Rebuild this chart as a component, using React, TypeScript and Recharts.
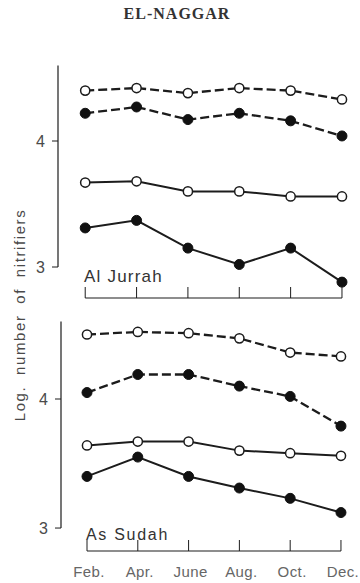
import { Line, LineChart, ReferenceLine, XAxis, YAxis } from "recharts"

const INK = "#1c1c1c"
const LABEL = "#4a4a4a"
const SANS = "'Liberation Sans', Arial, sans-serif"

const MONTHS = ["Feb.", "Apr.", "June", "Aug.", "Oct.", "Dec."]
const Y_TICKS = [3, 4]

// Al Jurrah (top panel)
const JURRAH_OPEN_DASHED = [4.40, 4.42, 4.38, 4.42, 4.40, 4.33]
const JURRAH_FILLED_DASHED = [4.22, 4.27, 4.17, 4.22, 4.16, 4.04]
const JURRAH_OPEN_SOLID = [3.67, 3.68, 3.60, 3.60, 3.56, 3.56]
const JURRAH_FILLED_SOLID = [3.31, 3.37, 3.15, 3.02, 3.15, 2.88]

// As Sudah (bottom panel)
const SUDAH_OPEN_DASHED = [4.50, 4.52, 4.51, 4.47, 4.36, 4.33]
const SUDAH_FILLED_DASHED = [4.05, 4.19, 4.19, 4.10, 4.02, 3.79]
const SUDAH_OPEN_SOLID = [3.64, 3.67, 3.67, 3.60, 3.58, 3.56]
const SUDAH_FILLED_SOLID = [3.40, 3.55, 3.40, 3.31, 3.23, 3.12]

type Series = { od: number[]; fd: number[]; os: number[]; fs: number[] }

function buildRows(s: Series) {
  return MONTHS.map((_, i) => ({ m: i, od: s.od[i], fd: s.fd[i], os: s.os[i], fs: s.fs[i] }))
}

// dots would otherwise inherit the line's dash pattern
const openDot = { r: 4.6, fill: "#fff", stroke: INK, strokeWidth: 1.5, strokeDasharray: "none" }
const filledDot = { r: 5, fill: "#111", stroke: "#111", strokeWidth: 1, strokeDasharray: "none" }

function MonthTick(props: any) {
  const { x, y, payload, showLabel } = props
  return (
    <g>
      <line x1={x} y1={y} x2={x} y2={y - 11} stroke={INK} strokeWidth={1} />
      {showLabel && (
        <text x={x + 2} y={y + 26} textAnchor="middle" fill="#666" fontSize={15} fontFamily={SANS} letterSpacing={0.4}>
          {MONTHS[payload.value]}
        </text>
      )}
    </g>
  )
}

type PanelProps = {
  series: Series
  top: number
  height: number
  marginTop: number
  marginLeft: number
  xDomain: [number, number]
  yDomain: [number, number]
  xAxisHeight: number
  showMonths: boolean
}

function Panel(p: PanelProps) {
  const data = buildRows(p.series)
  const yMin = p.yDomain[0]
  return (
    <div style={{ position: "absolute", left: 0, top: p.top }}>
      <LineChart
        width={360}
        height={p.height}
        data={data}
        margin={{ top: p.marginTop, right: 17, bottom: 2, left: p.marginLeft }}
      >
        <XAxis
          dataKey="m"
          type="number"
          domain={p.xDomain}
          ticks={[0, 1, 2, 3, 4, 5]}
          axisLine={false}
          tickLine={false}
          tickSize={0}
          tickMargin={0}
          height={p.xAxisHeight}
          interval={0}
          tick={(t: any) => <MonthTick {...t} showLabel={p.showMonths} />}
        />
        <YAxis
          type="number"
          domain={p.yDomain}
          ticks={Y_TICKS}
          width={40}
          axisLine={false}
          tickSize={6}
          tickMargin={7}
          tickLine={{ stroke: INK, strokeWidth: 1 }}
          tick={{ fill: LABEL, fontSize: 16, fontFamily: SANS }}
          allowDataOverflow
        />
        <ReferenceLine
          segment={[{ x: p.xDomain[0], y: 3 }, { x: p.xDomain[0], y: p.yDomain[1] }]}
          stroke={INK}
          strokeWidth={1.2}
        />
        <ReferenceLine
          segment={[{ x: 0, y: yMin }, { x: 5, y: yMin }]}
          stroke={INK}
          strokeWidth={1.2}
        />
        <Line dataKey="od" stroke={INK} strokeWidth={2.3} strokeDasharray="9 4" dot={openDot} activeDot={false} isAnimationActive={false} />
        <Line dataKey="fd" stroke={INK} strokeWidth={2.3} strokeDasharray="9 4" dot={filledDot} activeDot={false} isAnimationActive={false} />
        <Line dataKey="os" stroke={INK} strokeWidth={2} dot={openDot} activeDot={false} isAnimationActive={false} />
        <Line dataKey="fs" stroke={INK} strokeWidth={2} dot={filledDot} activeDot={false} isAnimationActive={false} />
      </LineChart>
    </div>
  )
}

const panelName = {
  position: "absolute" as const,
  fontFamily: SANS,
  color: "#333",
  lineHeight: 1,
  whiteSpace: "nowrap" as const,
}

export default function App() {
  return (
    <div style={{ position: "absolute", left: 0, top: 0, width: 360, height: 583, background: "#fff", overflow: "hidden" }}>
      <div
        style={{
          position: "absolute",
          left: 0,
          width: 354,
          top: 5,
          textAlign: "center",
          fontFamily: "'Liberation Serif', serif",
          fontWeight: 700,
          fontSize: 16,
          letterSpacing: 1,
          color: "#333",
        }}
      >
        EL-NAGGAR
      </div>

      <Panel
        series={{ od: JURRAH_OPEN_DASHED, fd: JURRAH_FILLED_DASHED, os: JURRAH_OPEN_SOLID, fs: JURRAH_FILLED_SOLID }}
        top={0}
        height={310}
        marginTop={65.4}
        marginLeft={18}
        xDomain={[-0.53, 5.02]}
        yDomain={[2.754, 4.6]}
        xAxisHeight={10}
        showMonths={false}
      />
      <Panel
        series={{ od: SUDAH_OPEN_DASHED, fd: SUDAH_FILLED_DASHED, os: SUDAH_OPEN_SOLID, fs: SUDAH_FILLED_SOLID }}
        top={300}
        height={283}
        marginTop={21.6}
        marginLeft={21}
        xDomain={[-0.512, 5.04]}
        yDomain={[2.822, 4.6]}
        xAxisHeight={30}
        showMonths={true}
      />

      <div style={{ ...panelName, left: 84, top: 268, fontSize: 17, letterSpacing: 1.2 }}>Al Jurrah</div>
      <div style={{ ...panelName, left: 86, top: 527, fontSize: 16, letterSpacing: 1.7 }}>As Sudah</div>

      <div
        style={{
          position: "absolute",
          left: 20 - 150,
          top: 315 - 9,
          width: 300,
          height: 18,
          lineHeight: "18px",
          textAlign: "center",
          transform: "rotate(-90deg)",
          fontFamily: SANS,
          fontSize: 15,
          letterSpacing: 1.6,
          wordSpacing: 5,
          color: LABEL,
          whiteSpace: "nowrap",
        }}
      >
        Log. number of nitrifiers
      </div>
    </div>
  )
}
